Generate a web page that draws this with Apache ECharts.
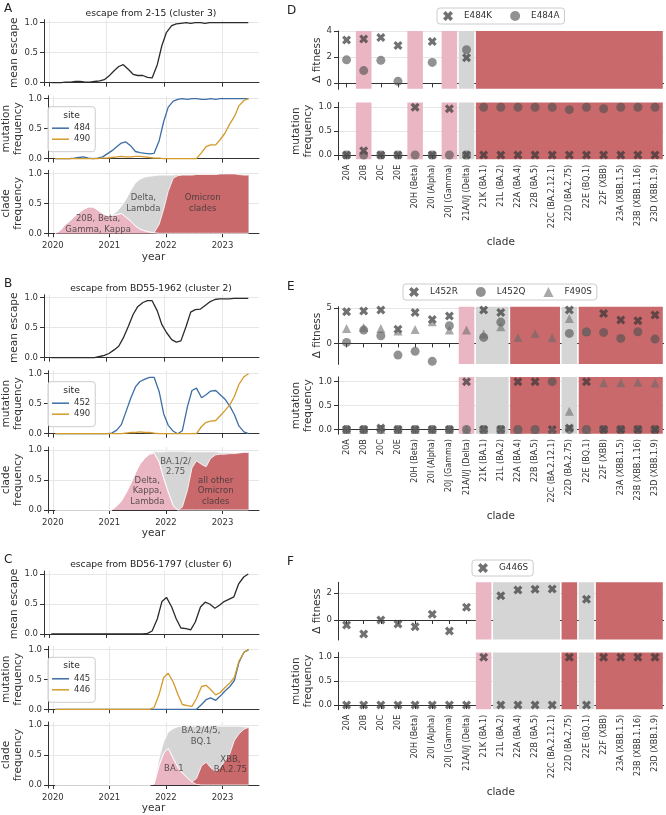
<!DOCTYPE html>
<html>
<head>
<meta charset="utf-8">
<script src="https://cdn.jsdelivr.net/npm/echarts@6/dist/echarts.min.js"></script>
<style>
  html, body { margin: 0; padding: 0; background: #fff; }
  #chart { width: 666px; height: 815px; }
</style>
</head>
<body>
<div id="chart"></div>
<script>
// escape / mutation frequency / clade frequency over time (A-C), fitness per clade (D-F)

// monthly sample points (decimal year)
const YEARS = [
  2020.04, 2020.13, 2020.21, 2020.29, 2020.38, 2020.46, 2020.54, 2020.63, 2020.71, 2020.79, 2020.88, 2020.96,
  2021.04, 2021.13, 2021.21, 2021.29, 2021.38, 2021.46, 2021.54, 2021.63, 2021.71, 2021.79, 2021.88, 2021.96,
  2022.04, 2022.13, 2022.21, 2022.29, 2022.38, 2022.46, 2022.54, 2022.63, 2022.71, 2022.79, 2022.88, 2022.96,
  2023.04, 2023.13, 2023.21, 2023.29, 2023.38, 2023.46];
const YEAR_TICKS = [2020, 2021, 2022, 2023];

// --- panel A: 2-15 (cluster 3)
const A_ESCAPE = [0, 0, 0, 0.01, 0.01, 0.02, 0.02, 0.01, 0.01, 0.02, 0.03, 0.05,
  0.11, 0.2, 0.27, 0.3, 0.22, 0.14, 0.12, 0.12, 0.09, 0.08, 0.3, 0.62,
  0.84, 0.95, 0.98, 0.99, 1.0, 0.99, 1.0, 1.0, 0.99, 1.0, 1.0, 1.0,
  1.0, 1.0, 1.0, 1.0, 1.0, 1.0];
const A_SITE_484 = [0, 0, 0, 0, 0.01, 0.02, 0.03, 0.01, 0, 0.01, 0.03, 0.08,
  0.13, 0.2, 0.26, 0.28, 0.21, 0.12, 0.1, 0.09, 0.08, 0.09, 0.3, 0.62,
  0.86, 0.96, 0.99, 1.0, 0.99, 1.0, 1.0, 0.99, 0.99, 1.0, 0.99, 1.0,
  1.0, 1.0, 1.0, 1.0, 1.0, 1.0];
const A_SITE_490 = [0, 0, 0, 0, 0, 0, 0, 0, 0, 0, 0.01, 0.01,
  0.02, 0.03, 0.04, 0.03, 0.03, 0.04, 0.04, 0.03, 0.02, 0.01, 0.01, 0,
  0, 0, 0, 0, 0, 0, 0, 0.1, 0.2, 0.23, 0.23, 0.32,
  0.42, 0.58, 0.7, 0.88, 0.97, 1.0];
const A_PINK = [0, 0.05, 0.14, 0.2, 0.28, 0.34, 0.4, 0.44, 0.44, 0.39, 0.33, 0.3,
  0.3, 0.31, 0.33, 0.27, 0.2, 0.12, 0.07, 0.04, 0.02, 0.01, 0, 0,
  0, 0, 0, 0, 0, 0, 0, 0, 0, 0, 0, 0,
  0, 0, 0, 0, 0, 0];
const A_RED = [0, 0, 0, 0, 0, 0, 0, 0, 0, 0, 0, 0,
  0, 0, 0, 0, 0, 0, 0, 0, 0, 0, 0.15, 0.4,
  0.7, 0.92, 0.96, 0.97, 0.97, 0.97, 0.98, 0.98, 0.98, 0.98, 0.98, 0.99,
  0.99, 0.99, 0.99, 0.98, 0.97, 0.97];
const A_GRAY = [0, 0, 0, 0, 0, 0, 0, 0, 0, 0, 0, 0,
  0.01, 0.05, 0.12, 0.29, 0.52, 0.72, 0.83, 0.9, 0.93, 0.95, 0.82, 0.57,
  0.27, 0.05, 0.02, 0.01, 0.01, 0.01, 0.01, 0.01, 0.01, 0.01, 0.01, 0.01,
  0.01, 0.01, 0.01, 0.01, 0.01, 0.01];
const A_NOTES = [[2020.8, 0.15, '20B, Beta,\nGamma, Kappa'], [2021.6, 0.5, 'Delta,\nLambda'], [2022.65, 0.5, 'Omicron\nclades']];

// --- panel B: BD55-1962 (cluster 2)
const B_ESCAPE = [0, 0, 0, 0, 0, 0, 0, 0, 0, 0, 0.02, 0.04,
  0.07, 0.13, 0.19, 0.33, 0.53, 0.72, 0.85, 0.92, 0.95, 0.95, 0.78, 0.55,
  0.42, 0.3, 0.26, 0.28, 0.52, 0.76, 0.8, 0.81, 0.87, 0.93, 0.97, 0.98,
  0.98, 0.98, 0.99, 0.99, 0.99, 0.99];
const B_SITE_452 = [0, 0, 0, 0, 0, 0, 0, 0, 0, 0, 0, 0,
  0.01, 0.06, 0.15, 0.36, 0.6, 0.78, 0.87, 0.91, 0.94, 0.94, 0.7, 0.33,
  0.14, 0.04, 0, 0.05, 0.45, 0.72, 0.76, 0.6, 0.65, 0.71, 0.72, 0.65,
  0.58, 0.46, 0.32, 0.13, 0.03, 0];
const B_SITE_490 = [0, 0, 0, 0, 0, 0, 0, 0, 0, 0, 0, 0,
  0, 0, 0, 0.01, 0.02, 0.02, 0.03, 0.02, 0.02, 0.01, 0, 0,
  0, 0, 0, 0, 0, 0, 0, 0.12, 0.19, 0.21, 0.22, 0.3,
  0.38, 0.48, 0.62, 0.82, 0.95, 1.0];
const B_PINK = [0, 0, 0, 0, 0, 0, 0, 0, 0, 0, 0, 0,
  0, 0.07, 0.15, 0.28, 0.45, 0.62, 0.77, 0.87, 0.93, 0.95, 0.8, 0.53,
  0.3, 0.07, 0, 0, 0, 0, 0, 0, 0, 0, 0, 0,
  0, 0, 0, 0, 0, 0];
const B_RED = [0, 0, 0, 0, 0, 0, 0, 0, 0, 0, 0, 0,
  0, 0, 0, 0, 0, 0, 0, 0, 0, 0, 0, 0,
  0, 0, 0, 0.05, 0.33, 0.7, 0.82, 0.76, 0.72, 0.86, 0.92, 0.93,
  0.93, 0.94, 0.94, 0.95, 0.96, 0.96];
const B_GRAY = [0, 0, 0, 0, 0, 0, 0, 0, 0, 0, 0, 0,
  0, 0, 0, 0, 0, 0, 0, 0, 0.01, 0.02, 0.17, 0.44,
  0.68, 0.91, 0.98, 0.93, 0.64, 0.27, 0.15, 0.21, 0.25, 0.11, 0.05, 0.03,
  0.03, 0.02, 0.02, 0.01, 0.01, 0.01];
const B_NOTES = [[2022.17, 0.72, 'BA.1/2/\n2.75'], [2021.67, 0.32, 'Delta,\nKappa,\nLambda'], [2022.88, 0.32, 'all other\nOmicron\nclades']];

// --- panel C: BD56-1797 (cluster 6)
const C_ESCAPE = [0, 0, 0, 0, 0, 0, 0, 0, 0, 0, 0, 0,
  0, 0, 0, 0, 0, 0, 0, 0, 0.01, 0.05, 0.25, 0.54,
  0.61, 0.45, 0.25, 0.1, 0.09, 0.07, 0.2, 0.45, 0.53, 0.5, 0.43, 0.48,
  0.54, 0.58, 0.62, 0.83, 0.95, 1.0];
const C_SITE_445 = [0, 0, 0, 0, 0, 0, 0, 0, 0, 0, 0, 0,
  0, 0, 0, 0, 0, 0, 0, 0, 0, 0, 0, 0,
  0, 0, 0, 0, 0, 0, 0, 0.08, 0.16, 0.19, 0.15, 0.22,
  0.3, 0.38, 0.48, 0.78, 0.95, 0.99];
const C_SITE_446 = [0, 0, 0, 0, 0, 0, 0, 0, 0, 0, 0, 0,
  0, 0, 0, 0, 0, 0, 0, 0, 0, 0.03, 0.25, 0.53,
  0.6, 0.45, 0.25, 0.08, 0.06, 0.05, 0.18, 0.38, 0.4, 0.33, 0.24, 0.28,
  0.36, 0.44, 0.53, 0.8, 0.95, 1.0];
const C_PINK = [0, 0, 0, 0, 0, 0, 0, 0, 0, 0, 0, 0,
  0, 0, 0, 0, 0, 0, 0, 0, 0, 0.02, 0.33, 0.53,
  0.61, 0.44, 0.3, 0.2, 0.12, 0.05, 0.01, 0, 0, 0, 0, 0,
  0, 0, 0, 0, 0, 0];
const C_RED = [0, 0, 0, 0, 0, 0, 0, 0, 0, 0, 0, 0,
  0, 0, 0, 0, 0, 0, 0, 0, 0, 0, 0, 0,
  0, 0, 0, 0, 0, 0, 0.1, 0.32, 0.38, 0.29, 0.22, 0.29,
  0.4, 0.52, 0.74, 0.85, 0.93, 0.96];
const C_GRAY = [0, 0, 0, 0, 0, 0, 0, 0, 0, 0, 0, 0,
  0, 0, 0, 0, 0, 0, 0, 0, 0, 0, 0.12, 0.19,
  0.27, 0.5, 0.67, 0.78, 0.86, 0.93, 0.87, 0.66, 0.6, 0.69, 0.76, 0.69,
  0.58, 0.46, 0.24, 0.13, 0.04, 0.01];
const C_NOTES = [[2022.62, 0.81, 'BA.2/4/5,\nBQ.1'], [2022.14, 0.27, 'BA.1'], [2023.14, 0.34, 'XBB,\nBA.2.75']];

// --- panels D-F: clades
const CLADES = ['20A', '20B', '20C', '20E', '20H (Beta)', '20I (Alpha)', '20J (Gamma)', '21A/I/J (Delta)',
  '21K (BA.1)', '21L (BA.2)', '22A (BA.4)', '22B (BA.5)', '22C (BA.2.12.1)', '22D (BA.2.75)', '22E (BQ.1)',
  '22F (XBB)', '23A (XBB.1.5)', '23B (XBB.1.16)', '23D (XBB.1.9)'];
// shading group per clade: w none, p pink, g gray, r red
const D_BANDS = ['w', 'p', 'w', 'w', 'p', 'w', 'p', 'g', 'r', 'r', 'r', 'r', 'r', 'r', 'r', 'r', 'r', 'r', 'r'];
const E_BANDS = ['w', 'w', 'w', 'w', 'w', 'w', 'w', 'p', 'g', 'g', 'r', 'r', 'r', 'g', 'r', 'r', 'r', 'r', 'r'];
const F_BANDS = ['w', 'w', 'w', 'w', 'w', 'w', 'w', 'w', 'p', 'g', 'g', 'g', 'g', 'r', 'g', 'r', 'r', 'r', 'r'];

const D_FIT_E484K = [3.31, 3.38, 3.5, 2.9, null, 3.2, null, 1.96, null, null, null, null, null, null, null, null, null, null, null];
const D_FIT_E484A = [1.8, 0.98, 1.76, 0.16, null, 1.6, null, 2.57, null, null, null, null, null, null, null, null, null, null, null];
const D_FREQ_E484K = [0, 0.09, 0, 0, 1, 0, 0.97, 0, 0, 0, 0, 0, 0, 0, 0, 0, 0, 0, 0];
const D_FREQ_E484A = [0, 0, 0, 0, 0, 0, 0, 0, 1, 1, 1, 1, 1, 0.95, 1, 0.97, 1, 1, 1];

const E_FIT_L452R = [4.44, 4.53, 4.67, 2.0, 4.35, 3.36, 3.83, null, 4.67, 4.35, null, null, null, 4.67, null, 4.2, 3.27, 3.18, 3.97];
const E_FIT_L452Q = [0.14, 1.87, 1.07, -1.64, -1.12, -2.52, 2.48, null, 0.84, 2.99, null, null, null, 1.4, 1.6, 1.54, 0.7, 1.64, 0.6];
const E_FIT_F490S = [2.1, 2.24, 2.1, 1.73, 1.96, 3.04, 1.87, 1.87, 1.31, 2.34, 0.84, 1.4, 0.79, 3.5, 1.78, null, null, null, null];
const E_FREQ_L452R = [0, 0, 0.03, 0, 0, 0, 0, 1, 0, 0, 1, 1, 0, 0.03, 1, 0, 0, 0, 0];
const E_FREQ_L452Q = [0, 0, 0, 0, 0, 0, 0, 0, 0, 0, 0, 0, 1, 0, 0, 0, 0, 0, 0];
const E_FREQ_F490S = [0, 0, 0, 0, 0, 0, 0, 0, 0, 0, 0, 0, 0, 0.38, 0, 0.98, 0.98, 0.99, 0.97];

const F_FIT_G446S = [-0.37, -1.05, 0, -0.3, -0.5, 0.42, -0.82, 0.95, null, 1.82, 2.25, 2.3, 2.32, null, 1.55, null, null, null, null];
const F_FREQ_G446S = [0, 0, 0, 0, 0, 0, 0, 0, 1, 0, 0, 0, 0, 1, 0, 1, 1, 1, 1];

// ---------------------------------------------------------------------------
const FONT = 'DejaVu Sans';
const INK = '#333';
const GRID_C = '#e6e6e6';
const BLUE = '#3c6ea5', GOLD = '#d49a2b', BLACK = '#2b2b2b';
const BAND_COLORS = { p: '#eab6c3', g: '#d5d5d5', r: '#c9696c' };
const X_MARK = 'path://M0,2.5 L2.5,0 L5,2.5 L7.5,0 L10,2.5 L7.5,5 L10,7.5 L7.5,10 L5,7.5 L2.5,10 L0,7.5 L2.5,5 Z';

const grid = [], xAxis = [], yAxis = [], series = [], legend = [], graphic = [];
function txt(x, y, text, size, align) {
  graphic.push({
    type: 'text', x, y, silent: true, z: 100,
    style: { text, fontSize: size, fontFamily: FONT, fill: '#222', align: align || 'center', verticalAlign: 'middle',
      textAlign: align || 'center', textVerticalAlign: 'middle' }
  });
}

function addLeftGrid(top, name, bottom) {
  const gi = grid.length;
  grid.push({ left: 44, top, width: 215, height: 66 });
  xAxis.push({
    type: 'value', gridIndex: gi, min: 2019.913, max: 2023.646,
    axisLine: { lineStyle: { color: INK, width: 1 } },
    axisTick: { show: true, customValues: YEAR_TICKS, length: 4, lineStyle: { color: INK } },
    axisLabel: { show: bottom, customValues: YEAR_TICKS, margin: 5, fontSize: 8.5, color: INK, fontFamily: FONT,
      formatter: v => String(v) },
    splitLine: { show: true, lineStyle: { color: GRID_C, width: 1 } },
    name: bottom ? 'year' : '', nameLocation: 'middle', nameGap: 15,
    nameTextStyle: { fontSize: 10.5, color: INK, fontFamily: FONT }
  });
  yAxis.push({
    type: 'value', gridIndex: gi, min: -0.05, max: 1.05,
    axisLine: { show: true, lineStyle: { color: INK, width: 1 } },
    axisTick: { show: true, customValues: [0, 0.5, 1], length: 4, lineStyle: { color: INK } },
    axisLabel: { customValues: [0, 0.5, 1], formatter: v => v.toFixed(1), fontSize: 8.5, color: INK, margin: 6, fontFamily: FONT },
    splitLine: { show: true, lineStyle: { color: GRID_C, width: 1 } },
    name, nameLocation: 'middle', nameGap: 24,
    nameTextStyle: { fontSize: 10.5, color: INK, fontFamily: FONT, lineHeight: 11.5 }
  });
  return gi;
}

const pts = vals => YEARS.map((t, i) => [t, vals[i]]);

function lineSeries(gi, name, vals, color) {
  return { type: 'line', name, xAxisIndex: gi, yAxisIndex: gi, data: pts(vals), showSymbol: false, symbol: 'none',
    lineStyle: { color, width: 1.3 }, itemStyle: { color }, z: 3, silent: true };
}
function areaSeries(gi, vals, color) {
  return { type: 'line', xAxisIndex: gi, yAxisIndex: gi, data: pts(vals), showSymbol: false, symbol: 'none',
    lineStyle: { color: '#fff', width: 0.8 }, areaStyle: { color, opacity: 1 }, z: 2, silent: true };
}
// stack pink (bottom), red, gray (top): draw cumulative tops back to front
function cladeSeries(gi, pink, red, gray) {
  const low = pink;
  const mid = pink.map((v, i) => +(v + red[i]).toFixed(3));
  const top = mid.map((v, i) => +(v + gray[i]).toFixed(3));
  return [areaSeries(gi, top, BAND_COLORS.g), areaSeries(gi, mid, BAND_COLORS.r), areaSeries(gi, low, BAND_COLORS.p)];
}
function noteSeries(gi, notes) {
  return { type: 'scatter', xAxisIndex: gi, yAxisIndex: gi, symbolSize: 1, itemStyle: { color: 'rgba(0,0,0,0)' },
    label: { show: true, position: 'inside', formatter: p => p.name, fontSize: 8.5, lineHeight: 10.5, color: '#333',
      fontFamily: FONT },
    data: notes.map(([x, y, t]) => ({ name: t, value: [x, y] })), z: 5, silent: true };
}

function leftPanel(p) {
  txt(4, p.tops[0] - 11, p.letter, 12, 'left');
  txt(151, p.tops[0] - 6.5, p.title, 9.2);
  const g1 = addLeftGrid(p.tops[0], 'mean escape', false);
  const g2 = addLeftGrid(p.tops[1], 'mutation\nfrequency', false);
  const g3 = addLeftGrid(p.tops[2], 'clade\nfrequency', true);
  series.push(lineSeries(g1, 'escape', p.escape, BLACK));
  p.sites.forEach(([name, vals, color]) => series.push(lineSeries(g2, name, vals, color)));
  series.push(...cladeSeries(g3, p.pink, p.red, p.gray));
  series.push(noteSeries(g3, p.notes));
  const lt = p.tops[1] + 11;
  legend.push({
    orient: 'vertical', left: 48, top: lt, data: p.sites.map(s => ({ name: s[0], icon: 'rect' })),
    itemWidth: 17, itemHeight: 1.5, itemGap: 2, padding: [17, 5, 8, 4],
    backgroundColor: 'rgba(255,255,255,0.85)', borderColor: '#ccc', borderWidth: 1, borderRadius: 3,
    textStyle: { fontSize: 8.5, color: INK, fontFamily: FONT }, selectedMode: false
  });
  txt(71.5, lt + 8.5, 'site', 9.2);
}

// right column
function addRightGrid(top, height, min, max, ticks, name, bottom, fmt) {
  const gi = grid.length;
  grid.push({ left: 338, top, width: 325.6, height });
  xAxis.push({
    type: 'category', gridIndex: gi, data: CLADES, boundaryGap: true,
    axisLine: { lineStyle: { color: INK, width: 1 } },
    axisTick: { show: true, alignWithLabel: true, length: 4, lineStyle: { color: INK } },
    axisLabel: { show: bottom, interval: 0, rotate: 90, margin: 5, fontSize: 8, color: INK, fontFamily: FONT },
    splitLine: { show: false },
    name: bottom ? 'clade' : '', nameLocation: 'middle', nameGap: 77,
    nameTextStyle: { fontSize: 10.5, color: INK, fontFamily: FONT }
  });
  yAxis.push({
    type: 'value', gridIndex: gi, min, max,
    axisLine: { show: true, lineStyle: { color: INK, width: 1 } },
    axisTick: { show: true, customValues: ticks, length: 4, lineStyle: { color: INK } },
    axisLabel: { customValues: ticks, formatter: fmt, fontSize: 8.5, color: INK, margin: 6, fontFamily: FONT },
    splitLine: { show: true, lineStyle: { color: GRID_C, width: 1 } },
    name, nameLocation: 'middle', nameGap: name.includes('\n') ? 24 : 15,
    nameTextStyle: { fontSize: 10.5, color: INK, fontFamily: FONT, lineHeight: 11.5 }
  });
  return gi;
}

const BAND_KEYS = ['p', 'g', 'r'];
function bandRuns(bands) {
  const runs = [];
  bands.forEach((b, i) => {
    if (b === 'w') return;
    const last = runs[runs.length - 1];
    if (last && last[1] === i - 1 && BAND_KEYS[last[2]] === b) last[1] = i;
    else runs.push([i, i, BAND_KEYS.indexOf(b)]);
  });
  return runs;
}
function bandSeries(gi, bands) {
  return {
    type: 'custom', xAxisIndex: gi, yAxisIndex: gi, silent: true, z: 1,
    data: bandRuns(bands),
    renderItem: (params, api) => {
      const cs = params.coordSys;
      const half = api.size([1, 0])[0] / 2;
      const x0 = api.coord([api.value(0), 0])[0] - half + 0.8;
      const x1 = Math.min(api.coord([api.value(1), 0])[0] + half - 0.8, cs.x + cs.width);
      return { type: 'rect', shape: { x: x0, y: cs.y, width: x1 - x0, height: cs.height - 0.5 },
        style: { fill: BAND_COLORS[BAND_KEYS[api.value(2)]] } };
    }
  };
}
const MARKS = {
  x: { symbol: X_MARK, symbolSize: 9, color: 'rgba(52,52,52,0.88)' },
  o: { symbol: 'circle', symbolSize: 9, color: 'rgba(80,80,80,0.78)' },
  t: { symbol: 'triangle', symbolSize: 9, color: 'rgba(105,105,105,0.72)' }
};
function markSeries(gi, name, kind, vals) {
  const m = MARKS[kind];
  return { type: 'scatter', name, xAxisIndex: gi, yAxisIndex: gi, symbol: m.symbol, symbolSize: m.symbolSize,
    itemStyle: { color: m.color }, z: 3, silent: true,
    data: vals.map((v, i) => [i, v]).filter(d => d[1] != null) };
}

function rightPanel(p) {
  txt(287, p.fit[0] - 20, p.letter, 12, 'left');
  const g1 = addRightGrid(p.fit[0], p.fit[1], p.fit[2], p.fit[3], p.fitTicks, 'Δ fitness', false, v => String(v));
  const g2 = addRightGrid(p.freqTop, 57.3, -0.1, 1.1, [0, 0.5, 1], 'mutation\nfrequency', true, v => v.toFixed(1));
  series.push(bandSeries(g1, p.bands), bandSeries(g2, p.bands));
  p.marks.forEach(([name, kind, fit, freq]) => {
    series.push(markSeries(g1, name, kind, fit));
    series.push(markSeries(g2, name, kind, freq));
  });
  legend.push({
    orient: 'horizontal', left: p.legend[0], top: p.legend[1], data: p.marks.map(m => m[0]),
    itemWidth: 10, itemHeight: 10, itemGap: 18, padding: [3, 5, 3, 6],
    backgroundColor: '#fff', borderColor: '#ccc', borderWidth: 1, borderRadius: 3,
    textStyle: { fontSize: 8.8, color: INK, fontFamily: FONT, padding: [0, 0, 0, 6] }, selectedMode: false
  });
}

leftPanel({ letter: 'A', title: 'escape from 2-15 (cluster 3)', tops: [19.7, 95.7, 170.3],
  escape: A_ESCAPE, sites: [['484', A_SITE_484, BLUE], ['490', A_SITE_490, GOLD]],
  pink: A_PINK, red: A_RED, gray: A_GRAY, notes: A_NOTES });
leftPanel({ letter: 'B', title: 'escape from BD55-1962 (cluster 2)', tops: [294.7, 370.7, 447],
  escape: B_ESCAPE, sites: [['452', B_SITE_452, BLUE], ['490', B_SITE_490, GOLD]],
  pink: B_PINK, red: B_RED, gray: B_GRAY, notes: B_NOTES });
leftPanel({ letter: 'C', title: 'escape from BD56-1797 (cluster 6)', tops: [571, 646.3, 722],
  escape: C_ESCAPE, sites: [['445', C_SITE_445, BLUE], ['446', C_SITE_446, GOLD]],
  pink: C_PINK, red: C_RED, gray: C_GRAY, notes: C_NOTES });

rightPanel({ letter: 'D', fit: [31, 58.3, -0.45, 4], fitTicks: [0, 2, 4], freqTop: 102.5, bands: D_BANDS,
  legend: [437, 8],
  marks: [['E484K', 'x', D_FIT_E484K, D_FREQ_E484K], ['E484A', 'o', D_FIT_E484A, D_FREQ_E484A]] });
rightPanel({ letter: 'E', fit: [306.7, 57.7, -2.95, 5.15], fitTicks: [0, 5], freqTop: 376.9, bands: E_BANDS,
  legend: [403, 284],
  marks: [['L452R', 'x', E_FIT_L452R, E_FREQ_L452R], ['L452Q', 'o', E_FIT_L452Q, E_FREQ_L452Q],
    ['F490S', 't', E_FIT_F490S, E_FREQ_F490S]] });
rightPanel({ letter: 'F', fit: [582.3, 57.7, -1.5, 2.82], fitTicks: [0, 2], freqTop: 652.5, bands: F_BANDS,
  legend: [472, 560],
  marks: [['G446S', 'x', F_FIT_G446S, F_FREQ_G446S]] });

const chart = echarts.init(document.getElementById('chart'), null, { renderer: 'canvas' });
chart.setOption({
  animation: false,
  backgroundColor: '#fff',
  textStyle: { fontFamily: FONT },
  grid, xAxis, yAxis, series, legend, graphic
});
</script>
</body>
</html>
